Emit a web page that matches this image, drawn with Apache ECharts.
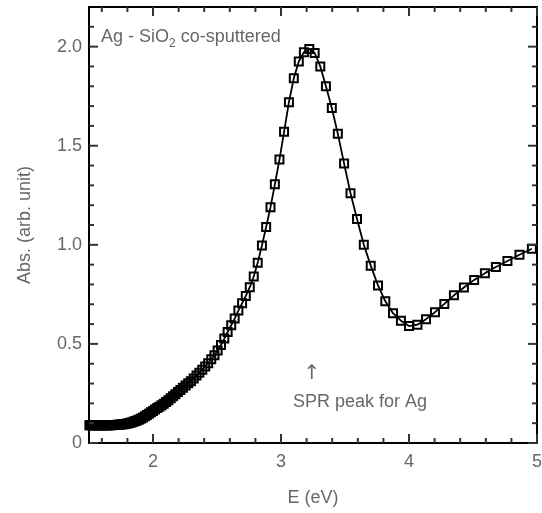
<!DOCTYPE html>
<html><head><meta charset="utf-8">
<script src="https://cdn.jsdelivr.net/npm/echarts@6/dist/echarts.min.js"></script>
<style>html,body{margin:0;padding:0;background:#fff}#c{width:542px;height:513px}</style>
</head><body><div id="c"></div>
<script>
// Photon energy (eV) of each measured point
const energy = [
  1.503,1.512,1.521,1.531,1.540,1.550,1.560,1.570,1.580,1.590,
  1.600,1.610,1.621,1.632,1.642,1.653,1.664,1.676,1.687,1.699,
  1.710,1.722,1.734,1.746,1.759,1.771,1.784,1.797,1.810,1.824,
  1.837,1.851,1.865,1.879,1.893,1.908,1.922,1.938,1.953,1.968,
  1.984,2.000,2.016,2.033,2.050,2.067,2.084,2.102,2.120,2.138,
  2.157,2.175,2.195,2.214,2.234,2.255,2.275,2.296,2.318,2.340,
  2.362,2.385,2.408,2.431,2.455,2.480,2.505,2.531,2.557,2.583,
  2.611,2.638,2.667,2.696,2.725,2.756,2.787,2.818,2.851,2.884,
  2.918,2.952,2.988,3.024,3.062,3.100,3.139,3.179,3.221,3.263,
  3.307,3.351,3.397,3.444,3.493,3.543,3.594,3.647,3.701,3.758,
  3.815,3.875,3.937,4.000,4.066,4.133,4.203,4.276,4.351,4.429,
  4.509,4.593,4.679,4.769,4.863,4.960
];
// Absorbance (arb. unit)
const absorbance = [
  0.090,0.090,0.090,0.090,0.090,0.090,0.090,0.090,0.090,0.090,
  0.090,0.090,0.090,0.090,0.090,0.090,0.090,0.090,0.091,0.091,
  0.091,0.092,0.092,0.093,0.094,0.095,0.096,0.098,0.100,0.102,
  0.105,0.108,0.111,0.115,0.119,0.124,0.129,0.135,0.141,0.148,
  0.155,0.162,0.169,0.176,0.183,0.190,0.198,0.207,0.216,0.226,
  0.236,0.246,0.257,0.268,0.279,0.290,0.302,0.312,0.326,0.340,
  0.355,0.370,0.386,0.403,0.422,0.443,0.467,0.495,0.527,0.560,
  0.594,0.628,0.668,0.705,0.742,0.786,0.840,0.910,0.997,1.090,
  1.190,1.305,1.430,1.570,1.720,1.840,1.925,1.972,1.988,1.968,
  1.900,1.800,1.690,1.560,1.410,1.260,1.130,1.000,0.895,0.795,
  0.715,0.655,0.617,0.590,0.597,0.625,0.660,0.702,0.745,0.785,
  0.823,0.857,0.888,0.918,0.950,0.980
];
const xMajorTicks = [2, 3, 4, 5];
const xMinorTicks = [1.6, 1.8, 2.2, 2.4, 2.6, 2.8, 3.2, 3.4, 3.6, 3.8, 4.2, 4.4, 4.6, 4.8];
const yMajorTicks = [0, 0.5, 1.0, 1.5, 2.0];
const yMinorTicks = [0.1, 0.2, 0.3, 0.4, 0.6, 0.7, 0.8, 0.9, 1.1, 1.2, 1.3, 1.4, 1.6, 1.7, 1.8, 1.9, 2.1];
const xRange = [1.5, 5];
const yRange = [0, 2.2];
const xTitle = 'E (eV)';
const yTitle = 'Abs. (arb. unit)';
const noteMain = 'Ag - SiO';
const noteSub = '2';
const noteTail = ' co-sputtered';
const peakArrow = '\u2191';
const peakNote = 'SPR peak for Ag';

const FONT = '"Liberation Sans", Arial, sans-serif';
const TXT = '#676767';
const AXC = '#000';
const TICKC = '#333';
const FS = 18;
const MAJOR_LEN = 9, MINOR_LEN = 5;

function mkX(pos, withLabel) {
  return {
    type: 'value', min: xRange[0], max: xRange[1], position: pos,
    axisLine: { show: true, onZero: false, lineStyle: { color: AXC, width: 2 } },
    axisTick: { show: false },
    axisLabel: { show: withLabel, customValues: xMajorTicks, margin: 10, color: TXT, fontSize: FS, fontFamily: FONT,
      formatter: v => String(v) },
    splitLine: { show: false }
  };
}
function mkY(pos, withLabel) {
  return {
    type: 'value', min: yRange[0], max: yRange[1], position: pos,
    axisLine: { show: true, onZero: false, lineStyle: { color: AXC, width: 2 } },
    axisTick: { show: false },
    axisLabel: { show: withLabel, customValues: yMajorTicks, margin: 7, color: TXT, fontSize: FS, fontFamily: FONT,
      formatter: v => (v === 0 ? '0' : v.toFixed(1)) },
    splitLine: { show: false }
  };
}

const seriesData = energy.map((e, i) => [e, absorbance[i]]);

const chart = echarts.init(document.getElementById('c'), null, { renderer: 'canvas' });
chart.setOption({
  animation: false,
  grid: { left: 89, right: 5, top: 7, bottom: 70, outerBoundsMode: 'none' },
  xAxis: [ mkX('bottom', true), mkX('top', false) ],
  yAxis: [ mkY('left', true), mkY('right', false) ],
  series: [{
    type: 'line', data: seriesData,
    symbol: 'rect', symbolSize: 8, showAllSymbol: true,
    lineStyle: { color: '#000', width: 1.8 },
    itemStyle: { color: 'rgba(255,255,255,0)', borderColor: '#000', borderWidth: 2 }
  }]
});

// tick marks on all four sides, placed through the chart's own axis scales
const finder = { xAxisIndex: 0, yAxisIndex: 0 };
const tickEls = [];
function addX(v, len) {
  const b = chart.convertToPixel(finder, [v, yRange[0]]);
  const t = chart.convertToPixel(finder, [v, yRange[1]]);
  tickEls.push({ type: 'line', z: 100, shape: { x1: b[0], y1: b[1], x2: b[0], y2: b[1] - len }, style: { stroke: TICKC, lineWidth: 2 } });
  tickEls.push({ type: 'line', z: 100, shape: { x1: t[0], y1: t[1], x2: t[0], y2: t[1] + len }, style: { stroke: TICKC, lineWidth: 2 } });
}
function addY(v, len) {
  const l = chart.convertToPixel(finder, [xRange[0], v]);
  const r = chart.convertToPixel(finder, [xRange[1], v]);
  tickEls.push({ type: 'line', z: 100, shape: { x1: l[0], y1: l[1], x2: l[0] + len, y2: l[1] }, style: { stroke: TICKC, lineWidth: 2 } });
  tickEls.push({ type: 'line', z: 100, shape: { x1: r[0], y1: r[1], x2: r[0] - len, y2: r[1] }, style: { stroke: TICKC, lineWidth: 2 } });
}
xMajorTicks.forEach(v => addX(v, MAJOR_LEN));
xMinorTicks.forEach(v => addX(v, MINOR_LEN));
yMajorTicks.forEach(v => addY(v, MAJOR_LEN));
yMinorTicks.forEach(v => addY(v, MINOR_LEN));

const mctx = document.createElement('canvas').getContext('2d');
mctx.font = FS + 'px ' + FONT;
const w1 = mctx.measureText(noteMain).width;
mctx.font = '12px ' + FONT;
const w2 = mctx.measureText(noteSub).width;

const textEls = [
  { type: 'text', x: 101, y: 37, style: { text: noteMain, font: FS + 'px ' + FONT, fill: TXT, align: 'left', verticalAlign: 'middle' } },
  { type: 'text', x: 101 + w1, y: 44, style: { text: noteSub, font: '12px ' + FONT, fill: TXT, align: 'left', verticalAlign: 'middle' } },
  { type: 'text', x: 101 + w1 + w2, y: 37, style: { text: noteTail, font: FS + 'px ' + FONT, fill: TXT, align: 'left', verticalAlign: 'middle' } },
  { type: 'text', x: 312, y: 374, style: { text: peakArrow, font: '20px "DejaVu Sans", sans-serif', fill: TXT, align: 'center', verticalAlign: 'middle' } },
  { type: 'text', x: 293, y: 402, style: { text: peakNote, font: FS + 'px ' + FONT, fill: TXT, align: 'left', verticalAlign: 'middle' } },
  { type: 'text', x: 313, y: 498, style: { text: xTitle, font: FS + 'px ' + FONT, fill: TXT, align: 'center', verticalAlign: 'middle' } },
  { type: 'text', x: 25, y: 225, rotation: Math.PI / 2, style: { text: yTitle, font: FS + 'px ' + FONT, fill: TXT, align: 'center', verticalAlign: 'middle' } }
];

chart.setOption({ graphic: textEls.concat(tickEls) });
</script>
</body></html>
